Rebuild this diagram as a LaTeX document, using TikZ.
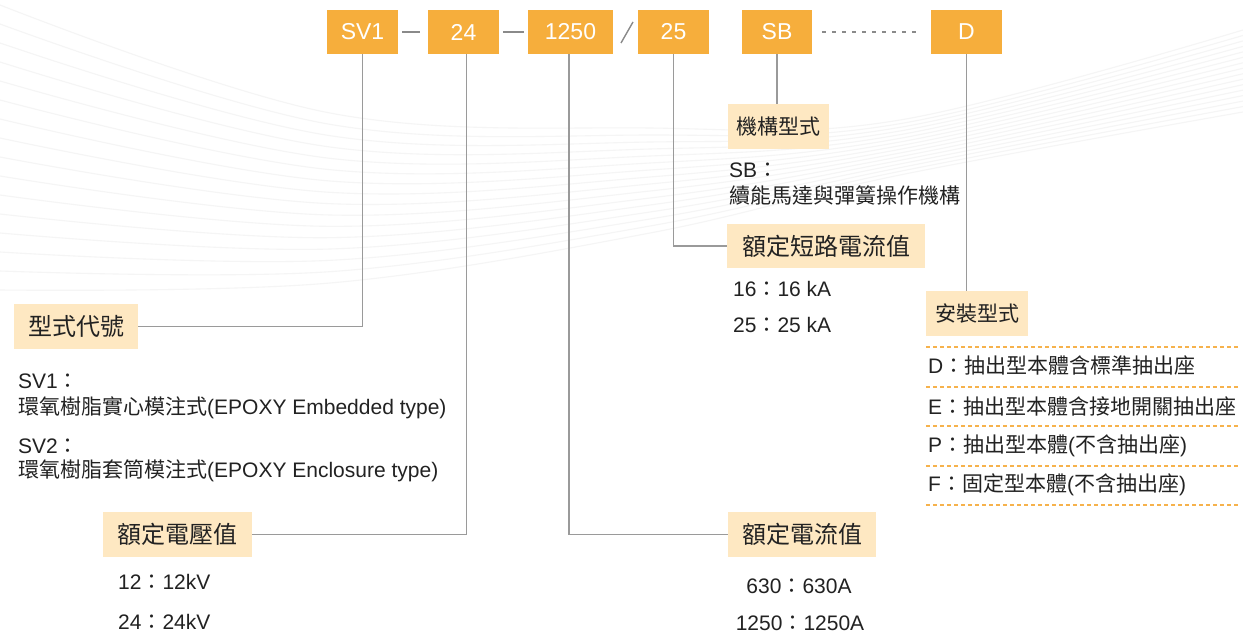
\documentclass[tikz,border=0pt]{standalone}
\usepackage{fontspec}
\setmainfont{Liberation Sans}
\newfontfamily\cjk{Noto Sans CJK TC}
\newcommand\zh[1]{{\cjk #1}}
\definecolor{topor}{HTML}{F6AE3C}
\definecolor{labbg}{HTML}{FEE8C2}
\definecolor{lgray}{HTML}{9A9A9A}
\definecolor{sepgray}{HTML}{8A8A8A}
\definecolor{odash}{HTML}{F6B24C}
\definecolor{txt}{HTML}{222222}
\definecolor{swoosh}{HTML}{F5F5F5}
\begin{document}
\begin{tikzpicture}[x=1pt,y=-1pt,
  topbox/.style={fill=topor, text=white, minimum height=44pt, inner sep=0pt, font=\fontsize{23}{27}\selectfont},
  lab/.style={fill=labbg, text=txt, minimum height=45pt, inner sep=0pt, font=\cjk\fontsize{24}{28}\selectfont},
  labsmall/.style={lab, font=\cjk\fontsize{21}{25}\selectfont},
  body/.style={text=txt, anchor=base west, inner sep=0pt, font=\fontsize{21}{25}\selectfont},
  bodyc/.style={body, anchor=base},
  conn/.style={draw=lgray, line width=1.6pt},
  sep/.style={draw=sepgray, line width=1.6pt},
  orule/.style={draw=odash, line width=1.3pt, dash pattern=on 4pt off 3pt},
  swl/.style={draw=swoosh, line width=1.1pt}
]
\useasboundingbox[fill=white] (0,0) rectangle (1243,637);

% background swooshes
\foreach \i in {0,...,15}{
  \pgfmathsetmacro\ya{5+285*\i/15}
  \pgfmathsetmacro\yb{113+170*\i/15}
  \pgfmathsetmacro\yc{128+105*\i/15}
  \pgfmathsetmacro\yd{120+55*\i/15}
  \pgfmathsetmacro\ye{30+82*\i/15}
  \draw[swl] plot[smooth, tension=0.6] coordinates {(0,\ya) (330,\yb) (650,\yc) (900,\yd) (1243,\ye)};
}

% top code boxes
\node[topbox, minimum width=71pt] (sv1)   at (362.5,32) {SV1};
\node[topbox, minimum width=71pt] (b24)   at (463.5,32) {24};
\node[topbox, minimum width=85pt] (b1250) at (570.5,32) {1250};
\node[topbox, minimum width=71pt] (b25)   at (673.5,32) {25};
\node[topbox, minimum width=70pt] (bsb)   at (777,32)   {SB};
\node[topbox, minimum width=71pt] (bd)    at (966.5,32) {D};

% separators
\draw[sep, shorten <=4pt, shorten >=8pt] (sv1.east) -- (b24.west);
\draw[sep, shorten <=4pt, shorten >=4pt] (b24.east) -- (b1250.west);
\coordinate (slA) at (621,43);
\coordinate (slB) at (633,22);
\draw[sep, line width=1.4pt] (slA) -- (slB);
\draw[sep, line width=1.4pt, dash pattern=on 4pt off 6pt, shorten <=10pt, shorten >=9pt] (bsb.east) -- (bd.west);

% label boxes
\node[lab, minimum width=124pt] (tA) at (76,326.5)    {型式代號};
\node[lab, minimum width=149pt] (tB) at (177.5,534.5) {額定電壓值};
\node[lab, minimum width=148pt] (tC) at (802,534.5)   {額定電流值};
\node[lab, minimum width=198pt, minimum height=44pt] (tD) at (826,246) {額定短路電流值};
\node[labsmall, minimum width=101pt] (tE) at (778.5,126.5) {機構型式};
\node[labsmall, minimum width=102pt] (tF) at (977,313.5)   {安裝型式};

% connectors
\draw[conn] (sv1.south) |- (tA.east);
\draw[conn] ([xshift=3pt]b24.south) |- (tB.east);
\draw[conn] ([xshift=-1.5pt]b1250.south) |- (tC.west);
\draw[conn] (b25.south) |- (tD.west);
\draw[conn] (bsb.south) -- (bsb.south |- tE.north);
\draw[conn] (bd.south) -- (bd.south |- tF.north);

% body texts
\node[body] (sv1t) at (18,388.5) {SV1\zh{：}};
\node[body] (sv1d) at (18,414.5) {\zh{環氧樹脂實心模注式}(EPOXY Embedded type)};
\node[body] (sv2t) at (18,453.5) {SV2\zh{：}};
\node[body] (sv2d) at (18,477.5) {\zh{環氧樹脂套筒模注式}(EPOXY Enclosure type)};

\node[body] (v12) at (118,589.5) {12\zh{：}12kV};
\node[body] (v24) at (118,629.5) {24\zh{：}24kV};

\node[bodyc] (a630)  at (799,593.5) {630\zh{：}630A};
\node[bodyc] (a1250) at (800,630.5) {1250\zh{：}1250A};

\node[body] (k16) at (733,296.5) {16\zh{：}16 kA};
\node[body] (k25) at (733,332.5) {25\zh{：}25 kA};

\node[body] (sbt) at (729,177.5) {SB\zh{：}};
\node[body] (sbd) at (729,203.5) {\zh{續能馬達與彈簧操作機構}};

% mounting type list
\foreach \yy in {347,387,426,466,505}{
  \draw[orule] (926,\yy) -- (1240,\yy);
}
\node[body] (mD) at (928,373.5) {D\zh{：抽出型本體含標準抽出座}};
\node[body] (mE) at (928,414.5) {E\zh{：抽出型本體含接地開關抽出座}};
\node[body] (mP) at (928,452.5) {P\zh{：抽出型本體}(\zh{不含抽出座})};
\node[body] (mF) at (928,491.5) {F\zh{：固定型本體}(\zh{不含抽出座})};
\end{tikzpicture}
\end{document}
